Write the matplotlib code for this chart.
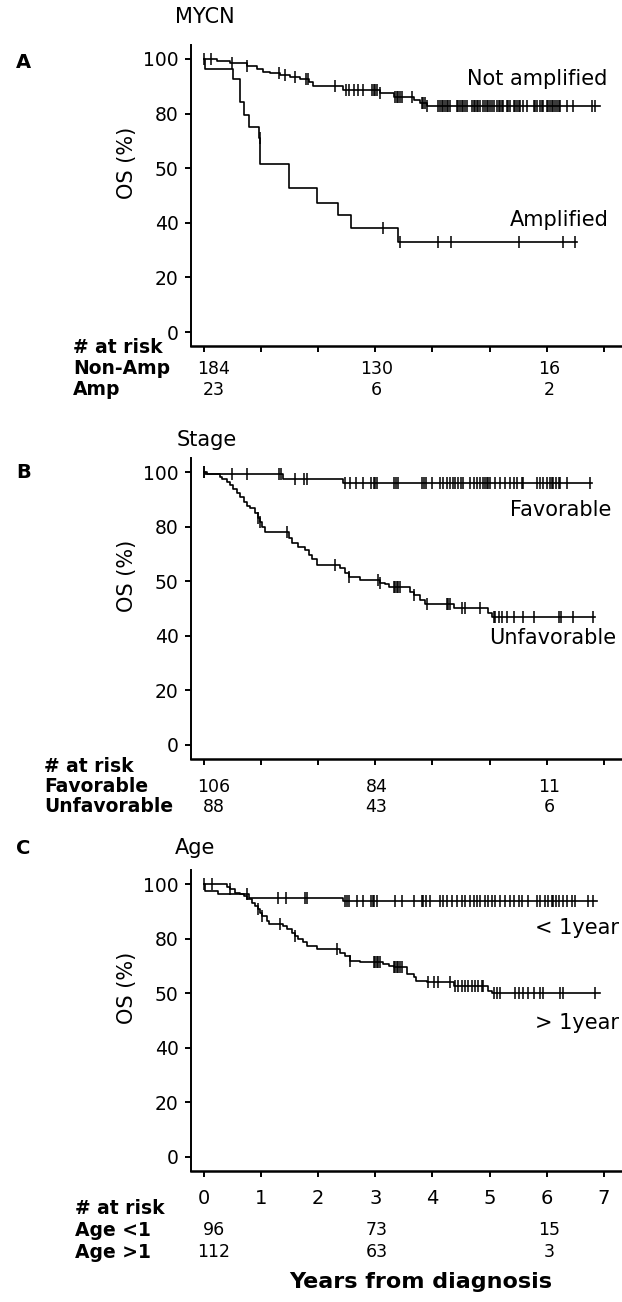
import matplotlib
matplotlib.use("Agg")
import matplotlib.pyplot as plt
import matplotlib.transforms as mtransforms
import numpy as np

W, H = 622, 1302

# y tick positions and the labels printed on them (the figure labels 60 as "50")
Y_TICKS = [0, 20, 40, 60, 80, 100]
Y_TICK_LABELS = ["0", "20", "40", "50", "80", "100"]
X_TICKS = [0, 1, 2, 3, 4, 5, 6, 7]

# --- Panel A: MYCN ---
NONAMP_T = [0, 0.22, 0.46, 0.75, 0.92, 1.04, 1.16, 1.33, 1.51, 1.68, 1.83, 1.91,
            2.44, 3.08, 3.32, 3.67, 3.78, 3.90, 6.93]
NONAMP_S = [100, 99.4, 98.4, 97.4, 96.2, 95.4, 94.8, 94.2, 93.3, 92.6, 91.7, 90.1,
            88.6, 87.4, 86.2, 85.0, 83.8, 82.9, 82.9]
NONAMP_CENS = [0.0, 0.12, 0.48, 0.75, 1.32, 1.42, 1.59, 1.79, 1.82, 2.30, 2.49, 2.53,
               2.62, 2.70, 2.78, 2.94, 2.97, 3.00, 3.02, 3.08, 3.34, 3.37, 3.40, 3.43,
               3.46, 3.64, 3.81, 3.84, 3.87, 3.90, 4.10, 4.13, 4.16, 4.19, 4.22, 4.25,
               4.28, 4.31, 4.43, 4.45, 4.48, 4.51, 4.54, 4.57, 4.60, 4.69, 4.72, 4.75,
               4.78, 4.80, 4.83, 4.89, 4.92, 4.95, 4.98, 5.01, 5.04, 5.07, 5.13, 5.16,
               5.18, 5.21, 5.24, 5.30, 5.33, 5.36, 5.42, 5.45, 5.48, 5.51, 5.53, 5.59,
               5.65, 5.77, 5.80, 5.83, 5.88, 5.91, 5.94, 6.00, 6.03, 6.06, 6.09, 6.12,
               6.15, 6.18, 6.21, 6.23, 6.35, 6.47, 6.79, 6.85]
AMP_T = [0, 0.02, 0.51, 0.62, 0.69, 0.78, 0.96, 0.98, 1.48, 1.97, 2.34, 2.57, 3.40, 6.53]
AMP_S = [100, 96.2, 92.5, 84.4, 79.5, 75.0, 71.0, 61.5, 52.6, 47.4, 42.9, 38.2, 33.1, 33.1]
AMP_CENS = [0.97, 3.14, 3.43, 4.10, 4.32, 5.52, 6.29, 6.50]
RISK_A_ROWS = ["Non-Amp", "Amp"]
RISK_A = [[184, 130, 16], [23, 6, 2]]

# --- Panel B: Stage ---
FAV_T = [0, 0.05, 1.39, 2.44, 6.79]
FAV_S = [100, 99.1, 97.3, 95.9, 95.9]
FAV_CENS = [0.0, 0.48, 0.75, 1.32, 1.34, 1.59, 1.75, 1.80, 2.47, 2.56, 2.66, 2.78, 2.92,
            2.97, 3.00, 3.02, 3.32, 3.36, 3.40, 3.81, 3.85, 3.89, 3.99, 4.13, 4.19, 4.25,
            4.31, 4.36, 4.40, 4.45, 4.50, 4.54, 4.66, 4.72, 4.78, 4.83, 4.89, 4.92, 4.95,
            4.98, 5.01, 5.10, 5.18, 5.27, 5.36, 5.42, 5.48, 5.56, 5.59, 5.83, 5.88, 5.94,
            6.00, 6.06, 6.09, 6.12, 6.16, 6.21, 6.23, 6.35, 6.76]
UNFAV_T = [0, 0.02, 0.27, 0.31, 0.40, 0.46, 0.51, 0.57, 0.63, 0.69, 0.75, 0.81, 0.89,
           0.95, 0.98, 1.01, 1.07, 1.48, 1.54, 1.65, 1.77, 1.83, 1.89, 1.97, 2.38, 2.47,
           2.53, 2.73, 3.08, 3.17, 3.23, 3.61, 3.67, 3.78, 3.87, 4.37, 4.98, 5.04, 6.85]
UNFAV_S = [100, 99.1, 98.3, 97.3, 96.5, 95.2, 93.6, 92.2, 91.0, 89.1, 87.5, 86.7, 84.9,
           83.0, 81.8, 79.7, 78.1, 75.7, 74.1, 72.6, 71.4, 69.6, 68.0, 65.9, 64.7, 62.9,
           61.7, 60.4, 59.2, 58.9, 58.0, 56.2, 54.9, 53.1, 51.6, 50.1, 48.2, 47.0, 47.0]
UNFAV_CENS = [0.0, 0.95, 0.98, 1.45, 2.30, 2.53, 3.05, 3.08, 3.32, 3.35, 3.38, 3.40, 3.43,
              3.67, 3.90, 4.25, 4.28, 4.31, 4.51, 4.57, 4.83, 5.07, 5.10, 5.16, 5.21, 5.30,
              5.42, 5.59, 5.77, 6.21, 6.26, 6.47, 6.82]
RISK_B_ROWS = ["Favorable", "Unfavorable"]
RISK_B = [[106, 84, 11], [88, 43, 6]]

# --- Panel C: Age ---
YOUNG_T = [0, 0.02, 0.25, 0.78, 2.44, 6.88]
YOUNG_S = [100, 97.4, 96.2, 95.0, 93.6, 93.6]
YOUNG_CENS = [0.75, 1.30, 1.44, 1.77, 1.80, 2.47, 2.50, 2.53, 2.67, 2.78, 2.92, 2.95,
              2.98, 3.02, 3.35, 3.46, 3.67, 3.81, 3.84, 3.89, 3.96, 4.13, 4.19, 4.25, 4.34,
              4.43, 4.51, 4.57, 4.66, 4.72, 4.78, 4.83, 4.92, 4.98, 5.04, 5.10, 5.18, 5.27,
              5.36, 5.42, 5.51, 5.56, 5.68, 5.83, 5.88, 5.97, 6.03, 6.09, 6.12, 6.16, 6.21,
              6.29, 6.35, 6.44, 6.50, 6.73, 6.82]
OLD_T = [0, 0.31, 0.40, 0.46, 0.54, 0.63, 0.69, 0.75, 0.83, 0.89, 0.95, 0.98, 1.01, 1.10,
         1.13, 1.39, 1.45, 1.54, 1.59, 1.65, 1.74, 1.80, 1.97, 2.38, 2.47, 2.56, 2.73, 3.14,
         3.23, 3.32, 3.55, 3.67, 3.72, 3.90, 4.37, 4.98, 5.04, 6.94]
OLD_S = [100, 99.9, 98.9, 98.1, 96.8, 96.2, 95.6, 94.4, 93.2, 92.0, 90.8, 89.5, 88.3, 86.5,
         85.5, 84.7, 83.5, 82.2, 81.0, 79.8, 78.6, 77.4, 76.2, 74.9, 73.7, 71.9, 71.3, 70.7,
         70.1, 69.5, 67.0, 65.8, 64.6, 64.0, 62.8, 60.9, 60.0, 60.0]
OLD_CENS = [0.0, 0.13, 0.46, 0.95, 1.01, 1.33, 1.59, 2.32, 2.56, 2.97, 3.00, 3.02, 3.05, 3.08,
            3.32, 3.35, 3.38, 3.40, 3.43, 3.46, 3.93, 4.02, 4.10, 4.31, 4.40, 4.45, 4.51,
            4.57, 4.63, 4.69, 4.75, 4.80, 4.86, 4.89, 5.07, 5.13, 5.18, 5.45, 5.51, 5.59,
            5.68, 5.77, 5.88, 5.94, 6.23, 6.29, 6.85]
RISK_C_ROWS = ["Age <1", "Age >1"]
RISK_C = [[96, 73, 15], [112, 63, 3]]

RISK_X = [0.17, 3.02, 6.05]   # where the at-risk counts sit (years)

plt.rcParams["font.family"] = ["DejaVu Sans"]
fig = plt.figure(figsize=(W / 100, H / 100), dpi=100)


def fx(px):
    return px / W


def fy(py):
    return 1 - py / H


def km(ax, t, s, cens):
    t = np.asarray(t)
    s = np.asarray(s)
    ax.step(t, s, where="post", color="black", lw=1.2)
    c = np.asarray(cens)
    cy = s[np.searchsorted(t, c, side="right") - 1]
    ax.plot(c, cy, ls="none", marker="|", ms=8, mew=1.1, color="black")


def panel(zero_px, letter, letter_y, title, title_x, title_y, curves, labels,
          risk_rows, risk, risk_label_x, risk_y, show_xticks=False):
    top = zero_px - 105 * 2.73
    bottom = zero_px + 5 * 2.73
    ax = fig.add_axes([fx(191), fy(bottom), fx(622) - fx(191), (bottom - top) / H])
    for t, s, c in curves:
        km(ax, t, s, c)
    ax.set_xlim(-0.23, 7.32)
    ax.set_ylim(-5, 105)
    ax.spines["top"].set_visible(False)
    ax.spines["right"].set_visible(False)
    ax.spines["left"].set_linewidth(1.4)
    ax.spines["bottom"].set_linewidth(1.8)
    ax.set_yticks(Y_TICKS)
    ax.set_yticklabels(Y_TICK_LABELS)
    ax.set_xticks(X_TICKS)
    ax.tick_params(axis="y", length=4, width=1.4, pad=5, labelsize=13.5)
    ax.tick_params(axis="x", length=4, width=1.4, pad=9, labelsize=14,
                   labelbottom=show_xticks)
    ax.text(-0.148, (62 + 5) / 110, "OS (%)", rotation=90, ha="center", va="center",
            fontsize=15, transform=ax.transAxes)

    fig.text(fx(16), fy(letter_y), letter, fontsize=14, fontweight="bold",
             ha="left", va="center")
    fig.text(fx(title_x), fy(title_y), title, fontsize=15, ha="left", va="center")
    for text, rx, ry in labels:
        fig.text(fx(rx), fy(ry), text, fontsize=15, ha="right", va="center")

    fig.text(fx(risk_label_x), fy(risk_y[0]), "# at risk", fontsize=13.5,
             fontweight="bold", ha="left", va="center")
    trans = mtransforms.blended_transform_factory(ax.transData, fig.transFigure)
    for i, row in enumerate(risk_rows):
        fig.text(fx(risk_label_x), fy(risk_y[i + 1]), row, fontsize=13.5,
                 fontweight="bold", ha="left", va="center")
        for xv, n in zip(RISK_X, risk[i]):
            ax.text(xv, fy(risk_y[i + 1]), str(n), fontsize=12.5, ha="center",
                    va="center", transform=trans, clip_on=False)
    return ax


panel(332, "A", 63, "MYCN", 175, 17,
      [(NONAMP_T, NONAMP_S, NONAMP_CENS), (AMP_T, AMP_S, AMP_CENS)],
      [("Not amplified", 607, 79), ("Amplified", 609, 220)],
      RISK_A_ROWS, RISK_A, 73, [348, 369, 390])

panel(745, "B", 473, "Stage", 177, 440,
      [(FAV_T, FAV_S, FAV_CENS), (UNFAV_T, UNFAV_S, UNFAV_CENS)],
      [("Favorable", 611, 510), ("Unfavorable", 616, 638)],
      RISK_B_ROWS, RISK_B, 44, [767, 787, 807])

panel(1157, "C", 848, "Age", 175, 848,
      [(YOUNG_T, YOUNG_S, YOUNG_CENS), (OLD_T, OLD_S, OLD_CENS)],
      [("< 1year", 619, 928), ("> 1year", 619, 1023)],
      RISK_C_ROWS, RISK_C, 75, [1209, 1230, 1252], show_xticks=True)

fig.text(fx(421), fy(1282), "Years from diagnosis", fontsize=16, fontweight="bold",
         ha="center", va="center")

fig.savefig("out.png", dpi=100)
